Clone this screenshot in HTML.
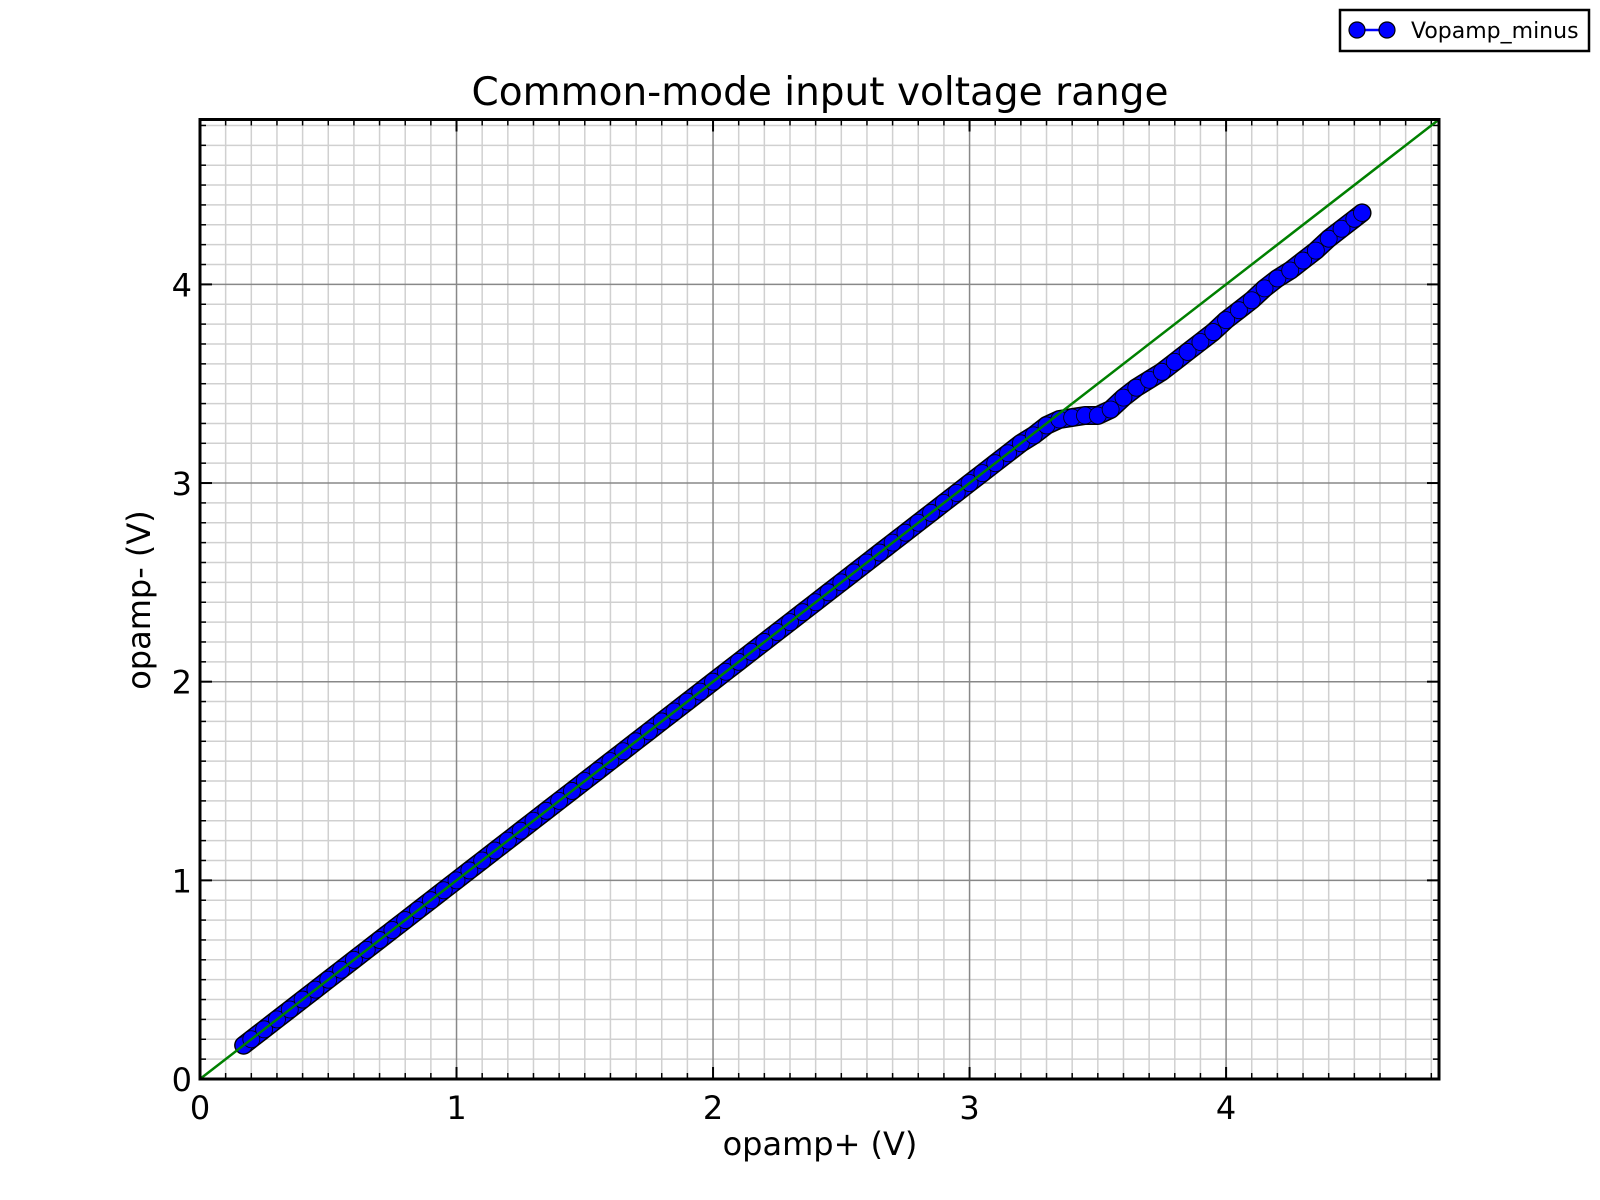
<!DOCTYPE html>
<html><head><meta charset="utf-8"><style>
html,body{margin:0;padding:0;background:#fff;}
svg{display:block;font-family:"DejaVu Sans","Liberation Sans",sans-serif;}
</style></head><body>
<svg id="chart" width="1600" height="1200" viewBox="0 0 1600 1200">
<rect width="1600" height="1200" fill="#fff"/>
<text x="820" y="105" font-size="39" text-anchor="middle">Common-mode input voltage range</text>
<g id="grid"></g>
<g id="ticks"></g>
<g id="marks"></g>
<rect x="200" y="119.5" width="1239" height="959.5" fill="none" stroke="#000" stroke-width="3"/>
<text x="820" y="1155" font-size="32" text-anchor="middle">opamp+ (V)</text>
<text x="150" y="600" font-size="32" text-anchor="middle" transform="rotate(-90 150 600)">opamp- (V)</text>
<g>
<rect x="1340" y="10" width="249" height="41" fill="#fff" stroke="#000" stroke-width="2.5"/>
<line x1="1357" y1="30" x2="1387" y2="30" stroke="#0000ff" stroke-width="2.5"/>
<circle cx="1357" cy="30" r="8" fill="#0000ff" stroke="#000" stroke-width="1.2"/>
<circle cx="1387" cy="30" r="8" fill="#0000ff" stroke="#000" stroke-width="1.2"/>
<text x="1411" y="38" font-size="22">Vopamp_minus</text>
</g>
</svg>
<script>
const xVals=[0.17,0.2,0.25,0.3,0.35,0.4,0.45,0.5,0.55,0.6,0.65,0.7,0.75,0.8,0.85,0.9,0.95,1.0,1.05,1.1,1.15,1.2,1.25,1.3,1.35,1.4,1.45,1.5,1.55,1.6,1.65,1.7,1.75,1.8,1.85,1.9,1.95,2.0,2.05,2.1,2.15,2.2,2.25,2.3,2.35,2.4,2.45,2.5,2.55,2.6,2.65,2.7,2.75,2.8,2.85,2.9,2.95,3.0,3.05,3.1,3.15,3.2,3.25,3.3,3.35,3.4,3.45,3.5,3.55,3.6,3.65,3.7,3.75,3.8,3.85,3.9,3.95,4.0,4.05,4.1,4.15,4.2,4.25,4.3,4.35,4.4,4.45,4.5,4.53];
const yVals=[0.17,0.2,0.25,0.3,0.35,0.4,0.45,0.5,0.55,0.6,0.65,0.7,0.75,0.8,0.85,0.9,0.95,1.0,1.05,1.1,1.15,1.2,1.25,1.3,1.35,1.4,1.45,1.5,1.55,1.6,1.65,1.7,1.75,1.8,1.85,1.9,1.95,2.0,2.05,2.1,2.15,2.2,2.25,2.3,2.35,2.4,2.45,2.5,2.55,2.6,2.65,2.7,2.75,2.8,2.85,2.9,2.95,3.0,3.05,3.1,3.15,3.2,3.24,3.29,3.32,3.33,3.34,3.34,3.37,3.43,3.48,3.52,3.56,3.61,3.66,3.71,3.76,3.82,3.87,3.92,3.98,4.03,4.07,4.12,4.17,4.23,4.28,4.33,4.36];
const xTicks=[0,1,2,3,4];
const yTicks=[0,1,2,3,4];
const xMax=4.83, yMax=4.83;
const L=200,R=1439,T=119.5,B=1079;
const sx=v=>L+(R-L)*v/xMax, sy=v=>B-(B-T)*v/yMax;
const NS="http://www.w3.org/2000/svg";
function mk(tag,attrs,parent){const e=document.createElementNS(NS,tag);for(const k in attrs)e.setAttribute(k,attrs[k]);parent.appendChild(e);return e;}
const grid=document.getElementById('grid'),ticks=document.getElementById('ticks'),marks=document.getElementById('marks');
for(let i=1;i*0.1<xMax;i++){const v=i*0.1;if(i%10===0)continue;const x=sx(v);
 const g=mk('line',{x1:x,y1:T,x2:x,y2:B,stroke:'#d0d0d0','stroke-width':1.5},grid);
 
 mk('line',{x1:x,y1:B,x2:x,y2:B-6,stroke:'#000','stroke-width':1.5},ticks);mk('line',{x1:x,y1:T,x2:x,y2:T+6,stroke:'#000','stroke-width':1.5},ticks);}
for(let i=1;i*0.1<yMax;i++){const v=i*0.1;if(i%10===0)continue;const y=sy(v);
 const g=mk('line',{x1:L,y1:y,x2:R,y2:y,stroke:'#d0d0d0','stroke-width':1.5},grid);
 
 mk('line',{x1:L,y1:y,x2:L+6,y2:y,stroke:'#000','stroke-width':1.5},ticks);mk('line',{x1:R,y1:y,x2:R-6,y2:y,stroke:'#000','stroke-width':1.5},ticks);}
xTicks.forEach(v=>{const x=sx(v);
 if(v>0){const g=mk('line',{x1:x,y1:T,x2:x,y2:B,stroke:'#888','stroke-width':1.5},grid);}
 mk('line',{x1:x,y1:B,x2:x,y2:B-12,stroke:'#000','stroke-width':2},ticks);mk('line',{x1:x,y1:T,x2:x,y2:T+12,stroke:'#000','stroke-width':2},ticks);
 const t=mk('text',{x:x,y:B+40,'font-size':32,'text-anchor':'middle'},ticks);t.textContent=v;
 });
yTicks.forEach(v=>{const y=sy(v);
 if(v>0){const g=mk('line',{x1:L,y1:y,x2:R,y2:y,stroke:'#888','stroke-width':1.5},grid);}
 mk('line',{x1:L,y1:y,x2:L+12,y2:y,stroke:'#000','stroke-width':2},ticks);mk('line',{x1:R,y1:y,x2:R-12,y2:y,stroke:'#000','stroke-width':2},ticks);
 const t=mk('text',{x:L-8,y:y+12,'font-size':32,'text-anchor':'end'},ticks);t.textContent=v;
 });
const pts=xVals.map((x,i)=>sx(x)+','+sy(yVals[i])).join(' ');
const outline=mk('polyline',{points:pts,fill:'none',stroke:'#000','stroke-width':19,'stroke-linecap':'round','stroke-linejoin':'round'},marks);


const poly=mk('polyline',{points:pts,fill:'none',stroke:'#0000ff','stroke-width':16,'stroke-linecap':'round','stroke-linejoin':'round'},marks);


xVals.forEach((x,i)=>{const c=mk('circle',{cx:sx(x),cy:sy(yVals[i]),r:8.5,fill:'#0000ff',stroke:'#000','stroke-width':0.8},marks);
 
 });
const ref=mk('line',{x1:sx(0),y1:sy(0),x2:sx(xMax),y2:sy(yMax),stroke:'#008000','stroke-width':2.5},marks);


</script>
</body></html>
